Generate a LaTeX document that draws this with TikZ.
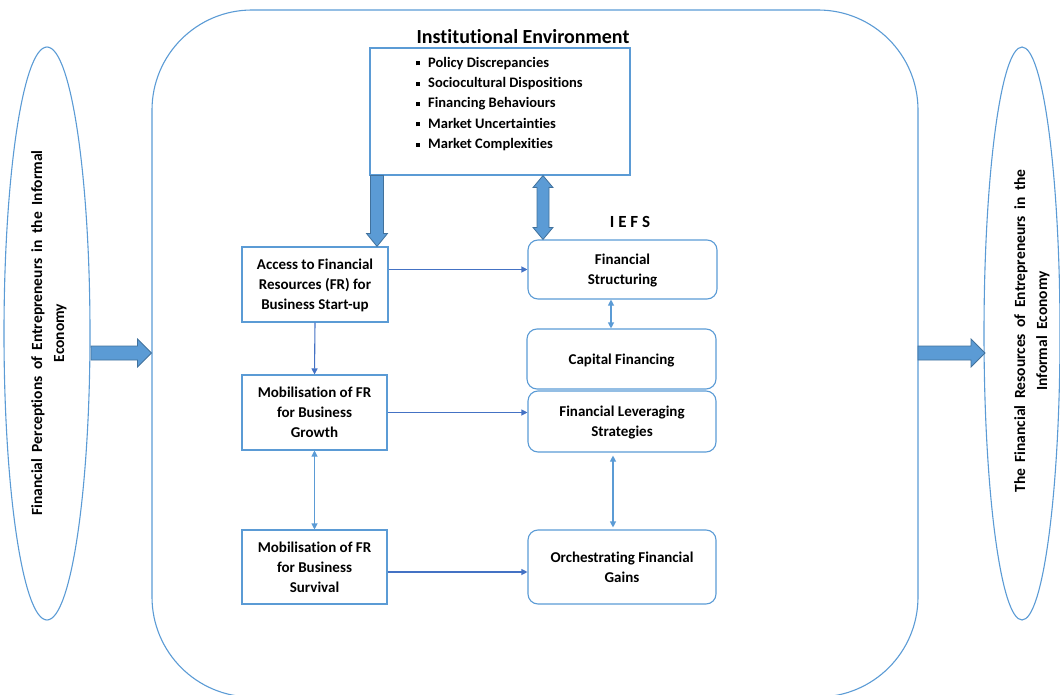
\documentclass[tikz,border=0pt]{standalone}
\usepackage{fontspec}
\setmainfont[Ligatures=NoCommon]{Carlito}
\usetikzlibrary{shapes.geometric,arrows.meta,calc}
\definecolor{edge}{HTML}{5B9BD5}
\definecolor{flow}{HTML}{4472C4}
\definecolor{fatfill}{HTML}{5B9BD5}
\definecolor{fatdraw}{HTML}{41719C}

\tikzset{
  boxtext/.style={font=\bfseries\fontsize{15}{20}\selectfont, align=center, text depth=0pt},
  plainbox/.style={draw=edge, line width=1.1pt, boxtext, inner sep=0pt},
  softbox/.style={plainbox, rounded corners=10pt},
  sidetext/.style={rotate=90, align=center, font=\bfseries\fontsize{15.5}{22}\selectfont},
  flowarrow/.style={draw=flow, line width=1.1pt, -{Triangle[length=6pt,width=6pt]}},
  linkarrow/.style={draw=edge, line width=1.1pt, {Triangle[length=6pt,width=6pt]}-{Triangle[length=6pt,width=6pt]}},
  % broad block arrows drawn between two points
  fatright/.style={fill=fatfill, draw=fatdraw, line width=0.8pt, to path={
    ($(\tikztostart)+(0,-7)$) -- ($(\tikztotarget)+(-14,-7)$) -- ($(\tikztotarget)+(-14,-14)$)
    -- (\tikztotarget) -- ($(\tikztotarget)+(-14,14)$) -- ($(\tikztotarget)+(-14,7)$)
    -- ($(\tikztostart)+(0,7)$) -- cycle}},
  fatdown/.style={fill=fatfill, draw=fatdraw, line width=0.8pt, to path={
    ($(\tikztostart)+(-6.5,0)$) -- ($(\tikztotarget)+(-6.5,-13)$) -- ($(\tikztotarget)+(-10.5,-13)$)
    -- (\tikztotarget) -- ($(\tikztotarget)+(10.5,-13)$) -- ($(\tikztotarget)+(6.5,-13)$)
    -- ($(\tikztostart)+(6.5,0)$) -- cycle}},
  fatboth/.style={fill=fatfill, draw=fatdraw, line width=0.8pt, to path={
    (\tikztostart) -- ($(\tikztostart)+(10,12)$) -- ($(\tikztostart)+(6,12)$)
    -- ($(\tikztotarget)+(6,-12)$) -- ($(\tikztotarget)+(10,-12)$) -- (\tikztotarget)
    -- ($(\tikztotarget)+(-10,-12)$) -- ($(\tikztotarget)+(-6,-12)$)
    -- ($(\tikztostart)+(-6,12)$) -- ($(\tikztostart)+(-10,12)$) -- cycle}},
}

\newcommand\sqbullet{\raisebox{0.28ex}{\rule{4pt}{4pt}}\hspace{8pt}}
\newcommand\widewords{\spaceskip=6.5pt plus 1pt\relax}

\begin{document}
\begin{tikzpicture}[x=1pt,y=-1pt]
\useasboundingbox (0,0) rectangle (1060,695);

% outer frame of the institutional setting
\node[draw=edge, line width=1.1pt, rounded corners=100pt, minimum width=766pt,
      minimum height=687pt, inner sep=0pt] (frame) at (535,353.5) {};

% side ellipses
\node[draw=edge, line width=1.1pt, ellipse, minimum width=86pt, minimum height=573pt,
      inner sep=0pt] (lell) at (47,333.5) {};
\node[sidetext] (ltext) at (49,333)
  {\widewords Financial Perceptions of Entrepreneurs in the Informal\\\widewords Economy};

\node[draw=edge, line width=1.1pt, ellipse, minimum width=76pt, minimum height=573pt,
      inner sep=0pt] (rell) at (1022,333.5) {};
\node[sidetext] (rtext) at (1032,331)
  {\widewords The Financial Resources of Entrepreneurs in the\\\widewords Informal Economy};

% institutional environment
\node[font=\bfseries\fontsize{20}{24}\selectfont] (insttitle) at (523,37) {Institutional Environment};
\node[draw=edge, line width=1.1pt, minimum width=260pt, minimum height=127pt, inner sep=0pt]
  (inst) at (500,111.5) {};
\node[anchor=north west, align=left, inner sep=0pt, font=\bfseries\fontsize{14.5}{20.3}\selectfont]
  (instlist) at (416,57) {%
  \sqbullet Policy Discrepancies\\
  \sqbullet Sociocultural Dispositions\\
  \sqbullet Financing Behaviours\\
  \sqbullet Market Uncertainties\\
  \sqbullet Market Complexities};

\node[font=\bfseries\fontsize{17}{20}\selectfont] (iefs) at (630,222) {I E F S};

% left column of stages
\node[plainbox, minimum width=146pt, minimum height=75pt] (access) at (315,284.5)
  {Access to Financial\\Resources (FR) for\\Business Start-up};
\node[plainbox, minimum width=145pt, minimum height=75pt] (growth) at (314.5,412.5)
  {Mobilisation of FR\\for Business\\Growth};
\node[plainbox, minimum width=145pt, minimum height=74pt] (survival) at (314.5,567)
  {Mobilisation of FR\\for Business\\Survival};

% right column: IEFS strategies
\node[softbox, minimum width=189pt, minimum height=59pt] (struct) at (622.5,269.5)
  {Financial\\Structuring};
\node[softbox, minimum width=189pt, minimum height=60pt] (capital) at (621.5,359)
  {Capital Financing};
\node[softbox, minimum width=188pt, minimum height=61pt] (lever) at (622,421.5)
  {Financial Leveraging\\Strategies};
\node[softbox, minimum width=188pt, minimum height=74pt] (orch) at (622,567)
  {Orchestrating Financial\\Gains};

% block arrows
\coordinate (lin) at (91,353);
\coordinate (rin) at (918,353);
\coordinate (dx) at (377,0);
\coordinate (ux) at (543,0);
\draw[fatright] (lin) to (frame.west |- lin);
\draw[fatright] (rin) to (985,353);
\draw[fatdown] (inst.south -| dx) to (access.north -| dx);
\draw[fatboth] (inst.south -| ux) to (struct.north -| ux);

% thin connectors
\draw[flowarrow] (access.east |- struct.west) -- (struct.west);
\draw[flowarrow] (growth.east) -- (lever.west |- growth.east);
\draw[flowarrow] (survival.east |- 0,572) -- (orch.west |- 0,572);
\draw[flowarrow] (access.south) -- (growth.north);
\draw[linkarrow] (growth.south) -- (survival.north);
\coordinate (sx) at (611,0);
\coordinate (ox) at (613,0);
\draw[linkarrow] (struct.south -| sx) -- (capital.north -| sx);
\draw[linkarrow, shorten <=3pt, shorten >=2pt] (lever.south -| ox) -- (orch.north -| ox);
\end{tikzpicture}
\end{document}
